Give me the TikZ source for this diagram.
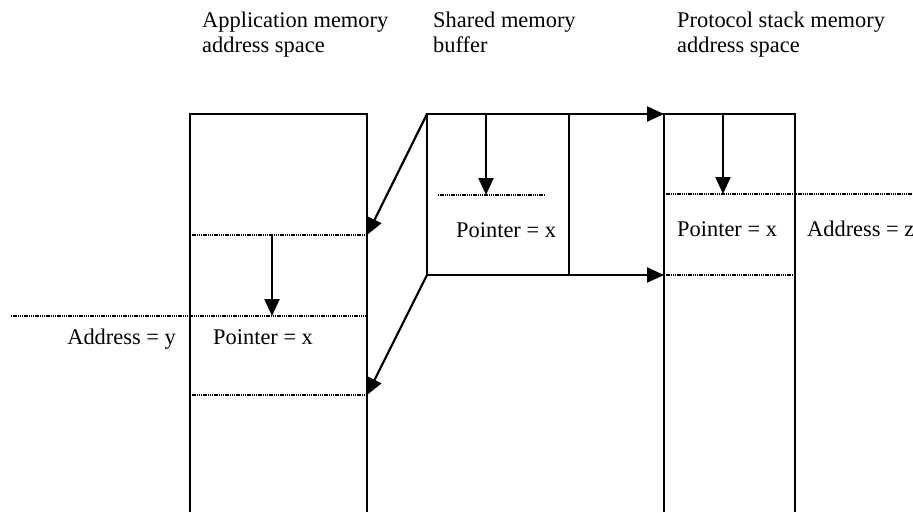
\documentclass[tikz,border=0pt]{standalone}
\usepackage{fontspec}
\setmainfont{Liberation Serif}
\usetikzlibrary{arrows.meta,positioning}

\begin{document}
\begin{tikzpicture}
 [x=1pt,y=-1pt,
% Line styles
    wall/.style={line width=2.2pt,draw=black},
    link/.style={line width=2.2pt,-{Triangle[length=17pt,width=15pt]}},
    dots/.style={line width=2pt,dash pattern=on 1.3pt off 0.9pt},
% Text styles
    title/.style={align=left,anchor=base west,inner sep=0pt,
        font=\fontsize{22.4}{25}\selectfont},
    tag/.style={anchor=base west,inner sep=0pt,
        font=\fontsize{22.4}{25}\selectfont}
 ]
\useasboundingbox (0,0) rectangle (913,512);
%% Corners of the three blocks
 \coordinate (a1) at (190,114);  \coordinate (a2) at (367,114);
 \coordinate (a3) at (190,512);  \coordinate (a4) at (367,512);
 \coordinate (s1) at (427,114);  \coordinate (s2) at (569,114);
 \coordinate (s3) at (427,275);  \coordinate (s4) at (569,275);
 \coordinate (p1) at (664,114);  \coordinate (p2) at (795,114);
 \coordinate (p3) at (664,512);  \coordinate (p4) at (795,512);
%% Levels inside the blocks
 \coordinate (aUpL) at (190,235);  \coordinate (aUpR) at (367,235);
 \coordinate (aMidL) at (11,316);  \coordinate (aMidR) at (367,316);
 \coordinate (aLowL) at (190,395); \coordinate (aLowR) at (367,395);
 \coordinate (sPtrL) at (438,195); \coordinate (sPtrR) at (545,195);
 \coordinate (pUpL) at (664,194);  \coordinate (pUpR) at (913,194);
 \coordinate (pLowL) at (664,275); \coordinate (pLowR) at (795,275);
%% Pointer arrows
 \coordinate (aPtr) at (272,235);  \coordinate (aPtrEnd) at (272,316);
 \coordinate (sPtr) at (486,114);  \coordinate (sPtrEnd) at (486,195);
 \coordinate (pPtr) at (723,114);  \coordinate (pPtrEnd) at (723,194);

%% Draw blocks
 \draw [wall] (a3) -- (a1) -- (a2) -- (a4);
 \draw [wall] (s1) rectangle (s4);
 \draw [wall] (s2) -- (s4);
 \draw [wall] (p3) -- (p1) -- (p2) -- (p4);
%% Draw levels
 \draw [dots] (aUpL) -- (aUpR);
 \draw [dots] (aMidL) -- (aMidR);
 \draw [dots] (aLowL) -- (aLowR);
 \draw [dots] (sPtrL) -- (sPtrR);
 \draw [dots] (pUpL) -- (pUpR);
 \draw [dots] (pLowL) -- (pLowR);
%% Draw arrows
 \draw [link] (aPtr) -- (aPtrEnd);
 \draw [link] (sPtr) -- (sPtrEnd);
 \draw [link] (pPtr) -- (pPtrEnd);
 \draw [link] (s1) -- (aUpR);
 \draw [link] (s3) -- (aLowR);
 \draw [link] (s1) -- (p1);
 \draw [link] (s4) -- (pLowL);

%% Titles
 \node (tApp) [title] at (202,52) {Application memory\\address space};
 \node (tShared) [title] at (433,52) {Shared memory\\buffer};
 \node (tProto) [title] at (677,52) {Protocol stack memory\\address space};
%% Labels
 \node (addrY) [tag,anchor=base east] at (176,344) {Address = y};
 \node (ptrA) [tag] at (213,344) {Pointer = x};
 \node (ptrS) [tag] at (456,237) {Pointer = x};
 \node (ptrP) [tag] at (677,236) {Pointer = x};
 \node (addrZ) [tag] at (807,236) {Address = z};
\end{tikzpicture}
\end{document}
